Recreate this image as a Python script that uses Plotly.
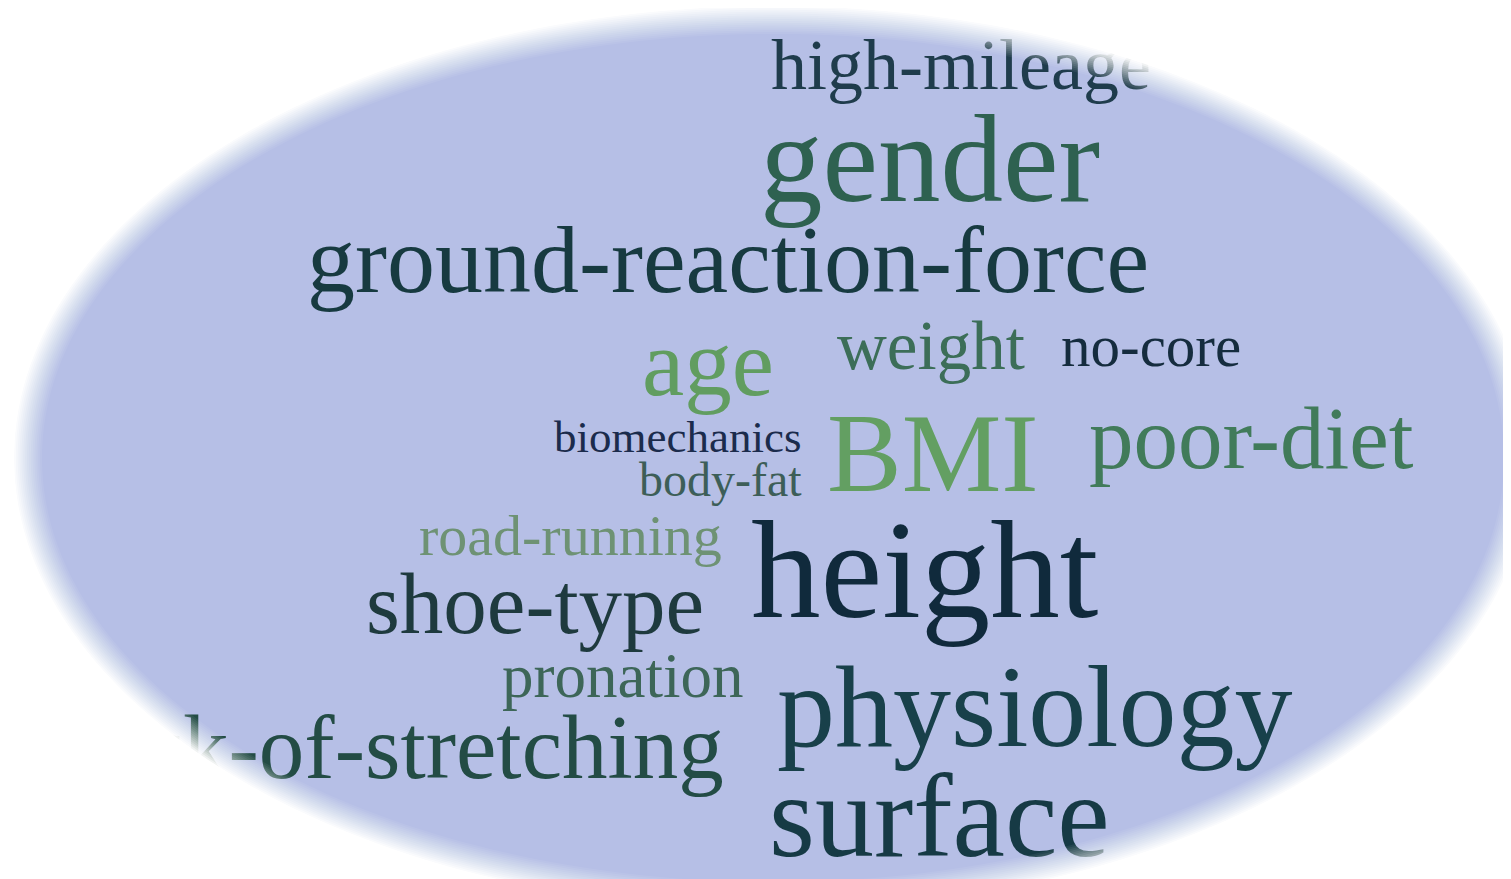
import numpy as np
import plotly.graph_objects as go

# ---- data ----
words = ["high-mileage", "gender", "ground-reaction-force", "weight", "no-core",
         "age", "biomechanics", "body-fat", "BMI", "poor-diet", "road-running",
         "shoe-type", "height", "pronation", "lack-of-stretching", "physiology", "surface"]
font_sizes = [72, 125, 96, 69, 59, 95, 45, 48, 112, 89, 58, 87, 139, 63, 91, 116, 118]
colors = ["#1f3c4c", "#2e6150", "#173a40", "#3c6e58", "#152c3e", "#619d60", "#1b2b4c",
          "#3d5e58", "#639f62", "#417b5a", "#6e9274", "#1e3a3e", "#102a3c", "#3d6658",
          "#234c45", "#18404a", "#163a45"]
left_x = [763, 752, 299, 829, 1053, 634, 546, 631, 819, 1081, 411, 358, 743, 494, 69, 769, 761]
baseline_y = [85, 200, 290, 365, 362, 393, 447, 491, 490, 465, 550, 630, 617, 693, 775, 745, 855]

W, H = 1511, 879
bg_color = "#b6bfe6"
cx, cy, ra, rb = 765, 450, 745, 438
blur = 14

# ---- figure ----
fig = go.Figure()

center_y = [b - 0.31 * s for b, s in zip(baseline_y, font_sizes)]
fig.add_trace(go.Scatter(
    x=left_x, y=center_y, mode="text", text=words,
    textposition="middle right",
    textfont=dict(family="Liberation Serif", size=font_sizes, color=colors),
    hoverinfo="skip", showlegend=False,
))

shapes = []
# background ellipse (slightly oversized; edge softened by the mask)
shapes.append(dict(type="circle", xref="x", yref="y",
                   x0=cx - ra - blur, x1=cx + ra + blur,
                   y0=cy - rb - blur, y1=cy + rb + blur,
                   fillcolor=bg_color, line=dict(width=0), layer="below"))


def ellipse_hole_path(off):
    t = np.linspace(0, 2 * np.pi, 241)[:-1]
    # counter-clockwise on screen (y down) -> opposite to the outer rectangle
    xs = cx + (ra + off) * np.cos(-t)
    ys = cy + (rb + off) * np.sin(-t)
    outer = f"M -200,-200 L {W + 200},-200 L {W + 200},{H + 200} L -200,{H + 200} Z"
    inner = "M " + " L ".join(f"{x:.1f},{y:.1f}" for x, y in zip(xs, ys)) + " Z"
    return outer + " " + inner


N = 16
for j in range(N):
    off = -blur + 2 * blur * j / (N - 1)
    p = 1.0 / (N - j)
    shapes.append(dict(type="path", xref="x", yref="y", path=ellipse_hole_path(off),
                       fillcolor="white", opacity=p, line=dict(width=0), layer="above"))

fig.update_layout(
    width=W, height=H,
    margin=dict(l=0, r=0, t=0, b=0),
    paper_bgcolor="white", plot_bgcolor="white",
    xaxis=dict(range=[0, W], visible=False, fixedrange=True),
    yaxis=dict(range=[H, 0], visible=False, fixedrange=True),
    shapes=shapes,
)

fig.write_html("out.html")
